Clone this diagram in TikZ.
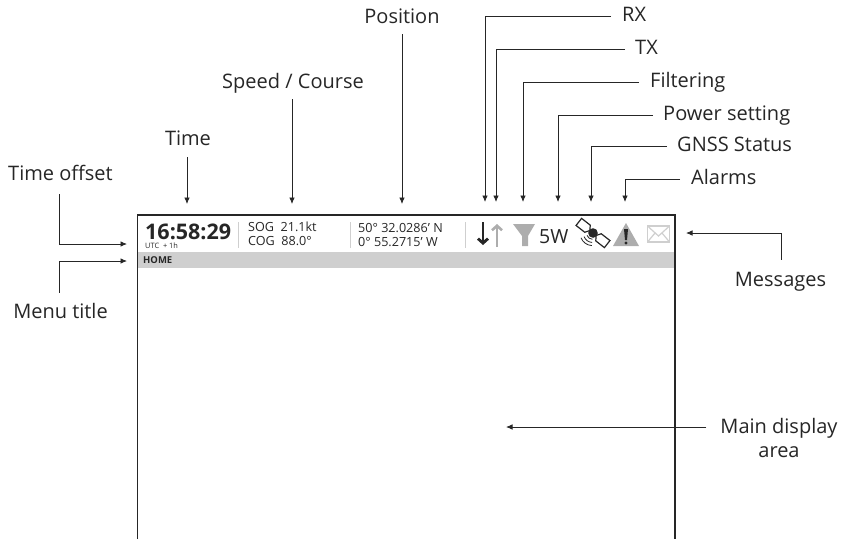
\documentclass[tikz,border=0pt]{standalone}
\usepackage{fontspec}
\setmainfont{Open Sans}
\usetikzlibrary{arrows.meta}
\definecolor{bargray}{gray}{0.81}
\definecolor{icongray}{gray}{0.68}
\tikzset{
	lbl/.style={inner sep=0pt,text height=15pt,text depth=4pt,font=\fontsize{20}{24}\selectfont,text=black!85},
	conn/.style={draw=black!85,line width=0.8pt,-{Latex[length=6.5pt,width=5.5pt]}},
	scr/.style={inner sep=0pt,anchor=west,text=black!85},
	scrsmall/.style={scr,font=\fontsize{12.6}{14}\selectfont},
}
\begin{document}
\begin{tikzpicture}[x=1pt,y=-1pt]
	\useasboundingbox (0,0) rectangle (845,539);
	% screen
	\fill[bargray] (138,252) rectangle (674,268);
	\draw[line width=1.2pt,black!85] (137.5,539) -- (137.5,215) -- (675,215) -- (675,539);
	\foreach \x in {238,350,465}
		\draw[bargray,line width=1pt] (\x,222) -- (\x,248);
	% status text
	\node[scr,font=\bfseries\fontsize{21.5}{24}\selectfont] (clock) at (145,231.5) {16:58:29};
	\node[scr,font=\fontsize{7.4}{8}\selectfont] (offset) at (145,245.5) {UTC\ \ + 1h};
	\node[scrsmall] (sog) at (248,227) {SOG\ \ 21.1kt};
	\node[scrsmall] (cog) at (248,241) {COG\ \ 88.0°};
	\node[scrsmall] (lat) at (358,228) {50° 32.0286’ N};
	\node[scrsmall] (lon) at (358,242) {0° 55.2715’ W};
	\node[scr,font=\bfseries\fontsize{9.5}{11}\selectfont] (home) at (143,260) {HOME};
	\node[scr,font=\fontsize{19.5}{22}\selectfont] (power) at (539,237) {5W};
	% icons
	\draw[line width=2.8pt,black!85,-{Straight Barb[length=4.5pt,width=10pt]}] (483,222) -- (483,245);
	\draw[line width=2.6pt,icongray,-{Straight Barb[length=4.5pt,width=10pt]}] (497,247) -- (497,224);
	\fill[icongray] (513,224) -- (535,224) -- (528,236) -- (528,246) -- (522,246) -- (522,236) -- cycle;
	\begin{scope}[shift={(593,233)}]
		\draw[line width=1.2pt,black!85,fill=white,rotate=-38] (-18,-4.5) -- (-7,-4.5) -- (-4,0) -- (-7,4.5) -- (-18,4.5) -- cycle;
		\draw[line width=1.2pt,black!85,fill=white,rotate=-38] (18,-4.5) -- (7,-4.5) -- (4,0) -- (7,4.5) -- (18,4.5) -- cycle;
		\fill[black!85] (0,0) circle (4.8pt);
		\foreach \r in {6,9,12}
			\draw[line width=0.8pt,black!85] (-\r,\r*0.4) to[bend right=30] (-\r*0.1,\r*1.05);
	\end{scope}
	\fill[icongray] (626,223) -- (639,246) -- (613,246) -- cycle;
	\fill[black!85] (624,229) -- (628,229) -- (627,240) -- (625,240) -- cycle;
	\fill[black!85] (626,243) circle (1.7pt);
	\draw[bargray,line width=1.2pt,fill=white] (647.5,226) rectangle (669.5,242);
	\draw[bargray,line width=1.2pt] (647.5,226) -- (658.5,236) -- (669.5,226) (647.5,242) -- (655,233) (669.5,242) -- (662,233);
	% labels
	\node[lbl,anchor=west] (rx) at (622,16) {RX};
	\node[lbl,anchor=west] (tx) at (635,49) {TX};
	\node[lbl,anchor=west] (filt) at (650,82) {Filtering};
	\node[lbl,anchor=west] (pow) at (663,115) {Power setting};
	\node[lbl,anchor=west] (gnss) at (677,146) {GNSS Status};
	\node[lbl,anchor=west] (alarm) at (691,179) {Alarms};
	\node[lbl] (pos) at (402,17.5) {Position};
	\node[lbl] (speed) at (293,83) {Speed / Course};
	\node[lbl] (time) at (188,139.5) {Time};
	\node[lbl] (toff) at (60.5,175) {Time offset};
	\node[lbl] (menu) at (60.5,313) {Menu title};
	\node[lbl] (msg) at (780.5,281) {Messages};
	\node[lbl,align=center] (main) at (779,452) {Main display\\area};
	% arrow ends
	\coordinate (rxe) at (485,202);
	\coordinate (txe) at (496,202);
	\coordinate (filte) at (523,202);
	\coordinate (powe) at (558,202);
	\coordinate (gnsse) at (591,202);
	\coordinate (alarme) at (625,202);
	\coordinate (pose) at (402,204);
	\coordinate (speede) at (292,204);
	\coordinate (timee) at (187,204);
	\coordinate (toffe) at (127,244);
	\coordinate (menue) at (127,261);
	\coordinate (msge) at (686,233);
	\coordinate (maine) at (506,427);
	% connectors
	\draw[conn] (rx.west) ++(-11,0) -| (rxe);
	\draw[conn] (tx.west) ++(-10,0) -| (txe);
	\draw[conn] (filt.west) ++(-11,0) -| (filte);
	\draw[conn] (pow.west) ++(-10,0) -| (powe);
	\draw[conn] (gnss.west) ++(-10,0) -| (gnsse);
	\draw[conn] (alarm.west) ++(-11,0) -| (alarme);
	\draw[conn] (pose |- pos.south) ++(0,7) -- (pose);
	\draw[conn] (speede |- speed.south) ++(0,6.5) -- (speede);
	\draw[conn] (timee |- time.south) ++(0,8) -- (timee);
	\draw[conn] (toff.south) ++(-1.5,9.5) |- (toffe);
	\draw[conn] (menu.north) ++(-1.5,-10.5) |- (menue);
	\draw[conn] (msg.north) ++(0.5,-11.5) |- (msge);
	\draw[conn] (main.west |- maine) ++(-14,0) -- (maine);
\end{tikzpicture}
\end{document}
